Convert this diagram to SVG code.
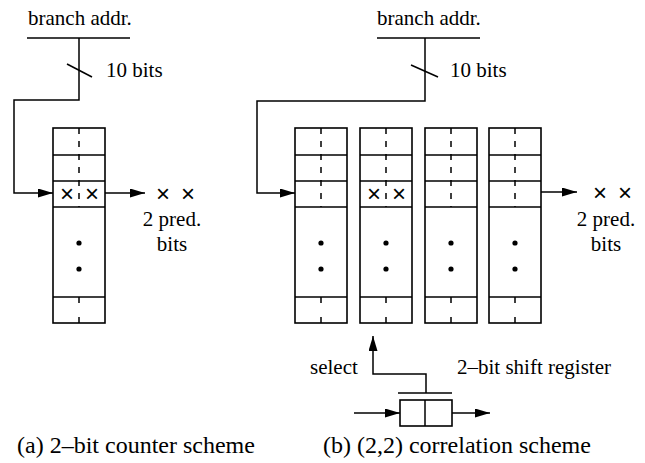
<svg xmlns="http://www.w3.org/2000/svg" width="645" height="463" viewBox="0 0 645 463">
<style>
.ln{fill:none;stroke:#000;stroke-width:1.5}
.bx{fill:#fff;stroke:#000;stroke-width:1.6}
.ds{fill:none;stroke:#000;stroke-width:1.5;stroke-dasharray:6 7}
.dsb{fill:none;stroke:#000;stroke-width:1.5;stroke-dasharray:6 14}
.t{font-family:"Liberation Serif","Times New Roman",serif;font-size:21px;fill:#000}
.cap{font-family:"Liberation Serif","Times New Roman",serif;font-size:24px;fill:#000}
.x{font-family:"Liberation Sans",Arial,sans-serif;font-size:24px;fill:#000;text-anchor:middle}
.dot{fill:#000}
</style>
<defs>
<marker id="ah" markerUnits="userSpaceOnUse" markerWidth="16" markerHeight="10" refX="15" refY="4.5" orient="auto">
<path d="M0,0 L15,4.5 L0,9 z" fill="#000"/>
</marker>
<g id="col">
<rect class="bx" x="0" y="128" width="52" height="195"/>
<line class="ln" x1="0" y1="155" x2="52" y2="155"/>
<line class="ln" x1="0" y1="181" x2="52" y2="181"/>
<line class="ln" x1="0" y1="207" x2="52" y2="207"/>
<line class="ln" x1="0" y1="297" x2="52" y2="297"/>
<line class="ds" x1="26" y1="128" x2="26" y2="207"/>
<line class="dsb" x1="26" y1="297" x2="26" y2="323"/>
<circle class="dot" cx="26" cy="243" r="2.6"/>
<circle class="dot" cx="26" cy="269" r="2.6"/>
</g>
</defs>
<rect width="645" height="463" fill="#fff"/>

<g id="connectors">
<line class="ln" x1="27" y1="38" x2="130" y2="38"/>
<path class="ln" d="M79,38 V100 H14 V193 H53" marker-end="url(#ah)"/>
<line class="ln" x1="67" y1="64" x2="92" y2="77"/>
<path class="ln" d="M105,193 H145" marker-end="url(#ah)"/>

<line class="ln" x1="377" y1="38" x2="480" y2="38"/>
<path class="ln" d="M425,38 V101 H257 V193 H295" marker-end="url(#ah)"/>
<line class="ln" x1="411" y1="65" x2="438" y2="77"/>
<path class="ln" d="M541,192 H577" marker-end="url(#ah)"/>

<line class="ln" x1="398" y1="393" x2="452" y2="393"/>
<path class="ln" d="M426,393 V374 H373 V336" marker-end="url(#ah)"/>
<path class="ln" d="M354,413 H400" marker-end="url(#ah)"/>
<path class="ln" d="M452,413 H490" marker-end="url(#ah)"/>
</g>

<g id="table-a">
<use href="#col" x="53"/>
<text class="x" x="67" y="201.5">×</text>
<text class="x" x="92" y="201.5">×</text>
</g>
<g id="table-b1"><use href="#col" x="295"/></g>
<g id="table-b2">
<use href="#col" x="360"/>
<text class="x" x="374" y="201.5">×</text>
<text class="x" x="399" y="201.5">×</text>
</g>
<g id="table-b3"><use href="#col" x="425"/></g>
<g id="table-b4"><use href="#col" x="489"/></g>

<g id="shift-register">
<rect class="bx" x="400" y="400" width="52" height="26"/>
<line class="ln" x1="425" y1="400" x2="425" y2="426"/>
</g>

<g id="labels-a">
<text class="t" x="28" y="25">branch addr.</text>
<text class="t" x="106" y="77">10 bits</text>
<text class="x" x="163" y="201.5">×</text>
<text class="x" x="188" y="201.5">×</text>
<text class="t" x="172" y="226" text-anchor="middle">2 pred.</text>
<text class="t" x="172" y="251" text-anchor="middle">bits</text>
<text class="cap" x="17" y="453">(a) 2–bit counter scheme</text>
</g>
<g id="labels-b">
<text class="t" x="377" y="25">branch addr.</text>
<text class="t" x="450" y="77">10 bits</text>
<text class="x" x="600" y="200.5">×</text>
<text class="x" x="625" y="200.5">×</text>
<text class="t" x="606" y="226" text-anchor="middle">2 pred.</text>
<text class="t" x="606" y="251" text-anchor="middle">bits</text>
<text class="t" x="310" y="374">select</text>
<text class="t" x="457" y="374">2–bit shift register</text>
<text class="cap" x="323" y="453">(b) (2,2) correlation scheme</text>
</g>
</svg>
